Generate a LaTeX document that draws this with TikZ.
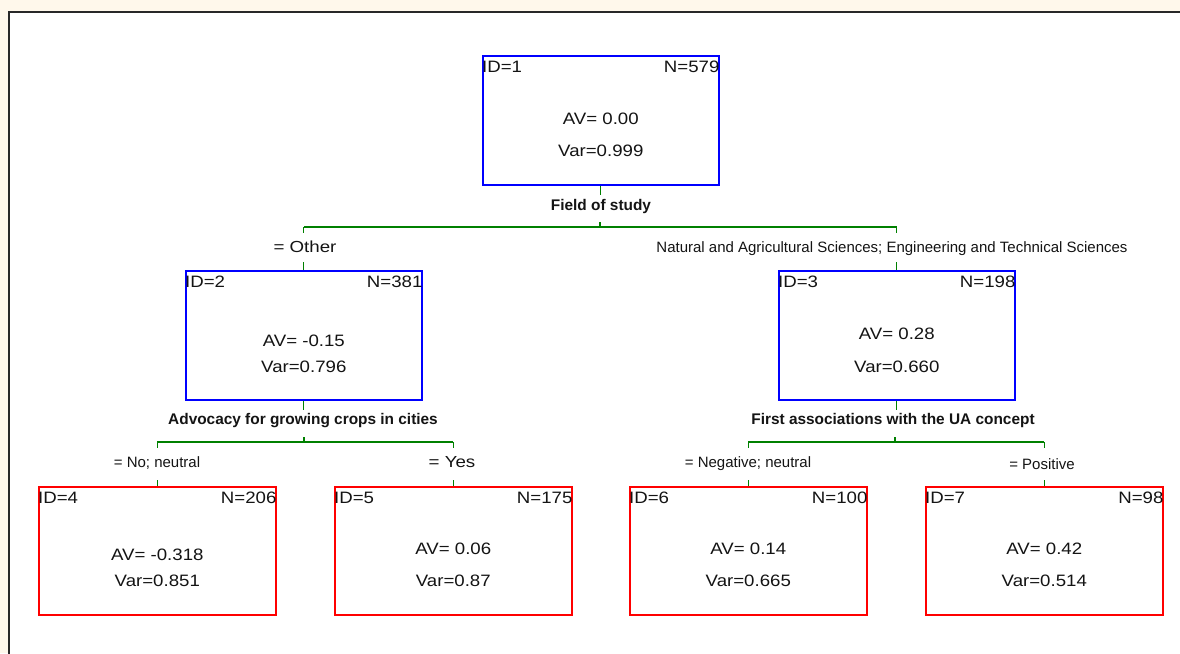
\documentclass[tikz,border=0pt]{standalone}
\usepackage{fontspec}
\setmainfont{Liberation Sans}
\newfontfamily\boxfont[FakeStretch=1.13]{Liberation Sans}
\newfontfamily\wideface[FakeStretch=1.17]{Liberation Sans}
\definecolor{paper}{RGB}{255,248,235}
\definecolor{frame}{RGB}{40,40,40}
\definecolor{branch}{RGB}{0,128,0}
\definecolor{ink}{RGB}{20,20,20}
\tikzset{
  inner/.style={draw=blue, line width=1.6pt, minimum width=236pt, minimum height=129pt, inner sep=0pt, anchor=north west},
  leaf/.style={draw=red, line width=1.6pt, minimum width=237pt, minimum height=128pt, inner sep=0pt, anchor=north west},
  txt/.style={text=ink, font=\boxfont\fontsize{16.5}{16.5}\selectfont, inner sep=0pt},
  cond/.style={text=ink, font=\wideface\fontsize{16}{16}\selectfont, inner sep=0pt},
  small/.style={text=ink, font=\fontsize{15}{15}\selectfont, inner sep=0pt},
  split/.style={text=ink, font=\bfseries\fontsize{15.4}{15.4}\selectfont, inner sep=0pt},
  wire/.style={draw=branch, line width=1.3pt},
}
% one tree node: box b<id>, header line, mean and variance
% #1 style, #2 id, #3 #4 top-left corner, #5 N, #6 AV, #7 Var, #8 #9 baseline offsets
\newcommand{\treebox}[9]{%
  \node[#1] (b#2) at (#3,#4) {};
  \node[txt, anchor=base west] (b#2id) at ([yshift=-17pt]b#2.north west) {ID=#2};
  \node[txt, anchor=base east] (b#2n) at ([yshift=-17pt]b#2.north east) {N=#5};
  \node[txt, anchor=base] (b#2av) at ([yshift=-#8pt]b#2.north) {AV= #6};
  \node[txt, anchor=base] (b#2var) at ([yshift=-#9pt]b#2.north) {Var=#7};
}
\begin{document}
\begin{tikzpicture}[x=1pt,y=-1pt]
\useasboundingbox (0,0) rectangle (1180,653);
\fill[paper] (0,0) rectangle (1180,653);
\fill[white] (9,12) rectangle (1181,654);
\draw[frame, line width=2pt] (9,655) -- (9,12) -- (1182,12);

% boxes
\treebox{inner}{1}{482}{55}{579}{0.00}{0.999}{69}{101}
\treebox{inner}{2}{185}{270}{381}{-0.15}{0.796}{76}{102}
\treebox{inner}{3}{778}{270}{198}{0.28}{0.660}{69}{102}
\treebox{leaf}{4}{38}{486}{206}{-0.318}{0.851}{74}{100}
\treebox{leaf}{5}{334}{486}{175}{0.06}{0.87}{68}{100}
\treebox{leaf}{6}{629}{486}{100}{0.14}{0.665}{68}{100}
\treebox{leaf}{7}{925}{486}{98}{0.42}{0.514}{68}{100}

% split variables
\node[split] (s1) at (601,207) {Field of study};
\node[split] (s2) at (303,421) {Advocacy for growing crops in cities};
\node[split] (s3) at (893,421) {First associations with the UA concept};

% branch conditions
\node[cond] (c2) at (305,247) {= Other};
\node[small] (c3) at (892,249) {Natural and Agricultural Sciences; Engineering and Technical Sciences};
\node[small] (c4) at (157,463) {= No; neutral};
\node[cond] (c5) at (452,462) {= Yes};
\node[small] (c6) at (748,464) {= Negative; neutral};
\node[small] (c7) at (1042,464) {= Positive};

% level 1 branches
\coordinate (h1) at (600,227);
\draw[wire] (b1.south) -- ++(0,9);
\draw[wire] (h1) -- ++(0,-5);
\draw[wire] (b2.north |- h1) -- (b3.north |- h1);
\draw[wire] (b2.north |- h1) -- ++(0,6);
\draw[wire] (b3.north |- h1) -- ++(0,6);
\draw[wire] (b2.north) -- ++(0,-8);
\draw[wire] (b3.north) -- ++(0,-8);

% level 2 branches
\coordinate (h2) at (304,442);
\coordinate (h3) at (895,442);
\draw[wire] (b2.south) -- ++(0,9);
\draw[wire] (b3.south) -- ++(0,9);
\draw[wire] (h2) -- ++(0,-5);
\draw[wire] (h3) -- ++(0,-5);
\draw[wire] (b4.north |- h2) -- (b5.north |- h2);
\draw[wire] (b6.north |- h3) -- (b7.north |- h3);
\foreach \b in {b4,b5}{\draw[wire] (\b.north |- h2) -- ++(0,6); \draw[wire] (\b.north) -- ++(0,-6);}
\foreach \b in {b6,b7}{\draw[wire] (\b.north |- h3) -- ++(0,6); \draw[wire] (\b.north) -- ++(0,-6);}
\end{tikzpicture}
\end{document}
